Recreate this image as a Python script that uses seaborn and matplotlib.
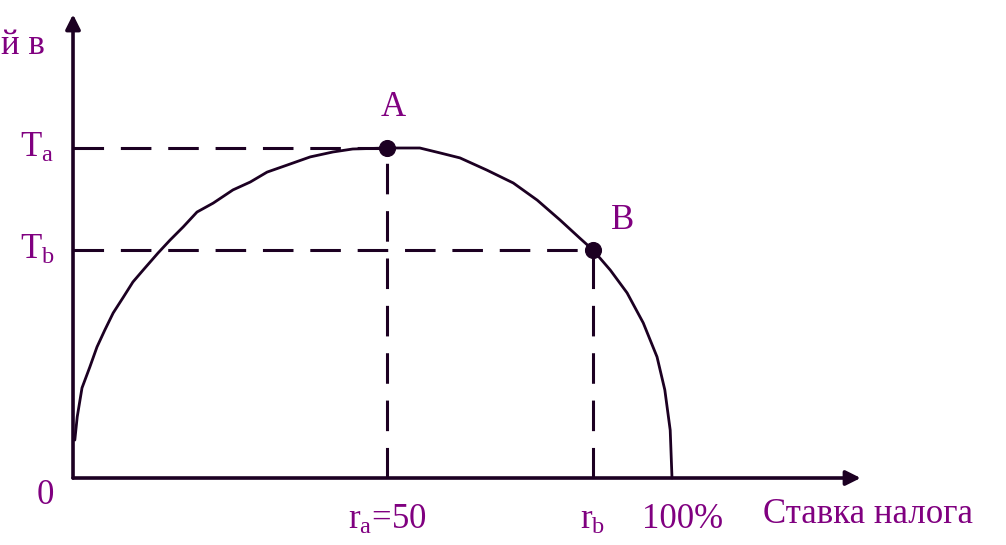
import numpy as np
import pandas as pd
import matplotlib
matplotlib.use('Agg')
import matplotlib.pyplot as plt
import seaborn as sns

# Laffer curve: tax rate (%) vs tax revenue (Ta taken as 100)
rate = [0.3, 0.7, 1.5, 2.8, 4.0, 5.3, 6.7, 8.4, 10.0, 11.7, 14.2, 16.2, 18.4,
        20.7, 23.4, 26.7, 29.6, 32.4, 35.7, 39.6, 43.4, 46.7, 52.4,
        57.9, 61.3, 64.6, 69.1, 73.5, 77.5, 81.3, 84.6, 86.8, 89.7, 92.5,
        95.2, 97.5, 98.8, 99.7, 100.0]
revenue = [11.5, 18.5, 27.3, 33.6, 39.7, 44.8, 50.0, 54.8, 59.4, 63.0, 68.2, 72.1, 76.1,
           80.6, 83.3, 87.3, 89.7, 92.7, 94.8, 97.3, 98.8, 99.7, 100.0,
           100.0, 98.5, 97.0, 93.3, 89.4, 84.2, 78.2, 72.7, 69.1, 63.0, 56.1,
           47.0, 36.7, 26.7, 14.5, 0.0]

point_names = ['A', 'B']
point_rate = [52.4, 86.8]
point_revenue = [100.0, 69.1]

y_tick_labels = ['$\\mathrm{T_a}$', '$\\mathrm{T_b}$']
x_tick_labels = ['$\\mathrm{r_a}$=50', '$\\mathrm{r_b}$']
x_title = 'Ставка налога'
y_title = 'й в'

sns.set_theme(style='white')
plt.rcParams['font.family'] = ['Liberation Serif', 'DejaVu Serif']
plt.rcParams['mathtext.fontset'] = 'custom'
plt.rcParams['mathtext.rm'] = 'Liberation Serif'
plt.rcParams['mathtext.it'] = 'Liberation Serif:italic'

line_col = '#1c0022'
text_col = '#800080'
fs = 25

curve = pd.DataFrame({'rate': rate, 'revenue': revenue})
points = pd.DataFrame({'name': point_names, 'rate': point_rate, 'revenue': point_revenue})

fig = plt.figure(figsize=(10.06, 5.45), dpi=100)
ax = fig.add_axes([0, 0, 1, 1])
ax.set_xlim(-12.19, 155.76)
ax.set_ylim(-20.3, 144.85)
ax.axis('off')

# axes with arrows
ax.annotate('', xy=(131.5, 0), xytext=(0, 0),
            arrowprops=dict(arrowstyle='-|>', color=line_col, lw=2.6, mutation_scale=22,
                            shrinkA=0, shrinkB=0))
ax.annotate('', xy=(0, 140.5), xytext=(0, 0),
            arrowprops=dict(arrowstyle='-|>', color=line_col, lw=2.6, mutation_scale=22,
                            shrinkA=0, shrinkB=0))

# dashed guides
for r, t in zip(point_rate, point_revenue):
    ax.plot([0, r], [t, t], color=line_col, lw=2.2, dashes=(10, 5.5))
    ax.plot([r, r], [0, t], color=line_col, lw=2.2, dashes=(10, 5.5))

sns.lineplot(data=curve, x='rate', y='revenue', ax=ax, color=line_col, lw=2.0)
sns.scatterplot(data=points, x='rate', y='revenue', ax=ax, color=line_col, s=130,
                edgecolor=line_col, zorder=5)

# point names
ax.text(point_rate[0] + 1.0, point_revenue[0] + 12.4, point_names[0], color=text_col,
        fontsize=fs, ha='center', va='center')
ax.text(point_rate[1] + 4.9, point_revenue[1] + 8.8, point_names[1], color=text_col,
        fontsize=fs, ha='center', va='center')

# tick-style labels
for lab, t in zip(y_tick_labels, point_revenue):
    ax.text(-6.0, t, lab, color=text_col, fontsize=fs, ha='center', va='center')
for lab, r in zip(x_tick_labels, point_rate):
    ax.text(r, -12.7, lab, color=text_col, fontsize=fs, ha='center', va='center')
ax.text(-4.7, -5.2, '0', color=text_col, fontsize=fs, ha='center', va='center')
ax.text(101.8, -12.7, '100%', color=text_col, fontsize=fs, ha='center', va='center')

ax.text(132.7, -11.2, x_title, color=text_col, fontsize=fs, ha='center', va='center')
ax.text(-12.1, 131.2, y_title, color=text_col, fontsize=fs, ha='left', va='center')

fig.savefig('out.png', dpi=100)
plt.close(fig)
